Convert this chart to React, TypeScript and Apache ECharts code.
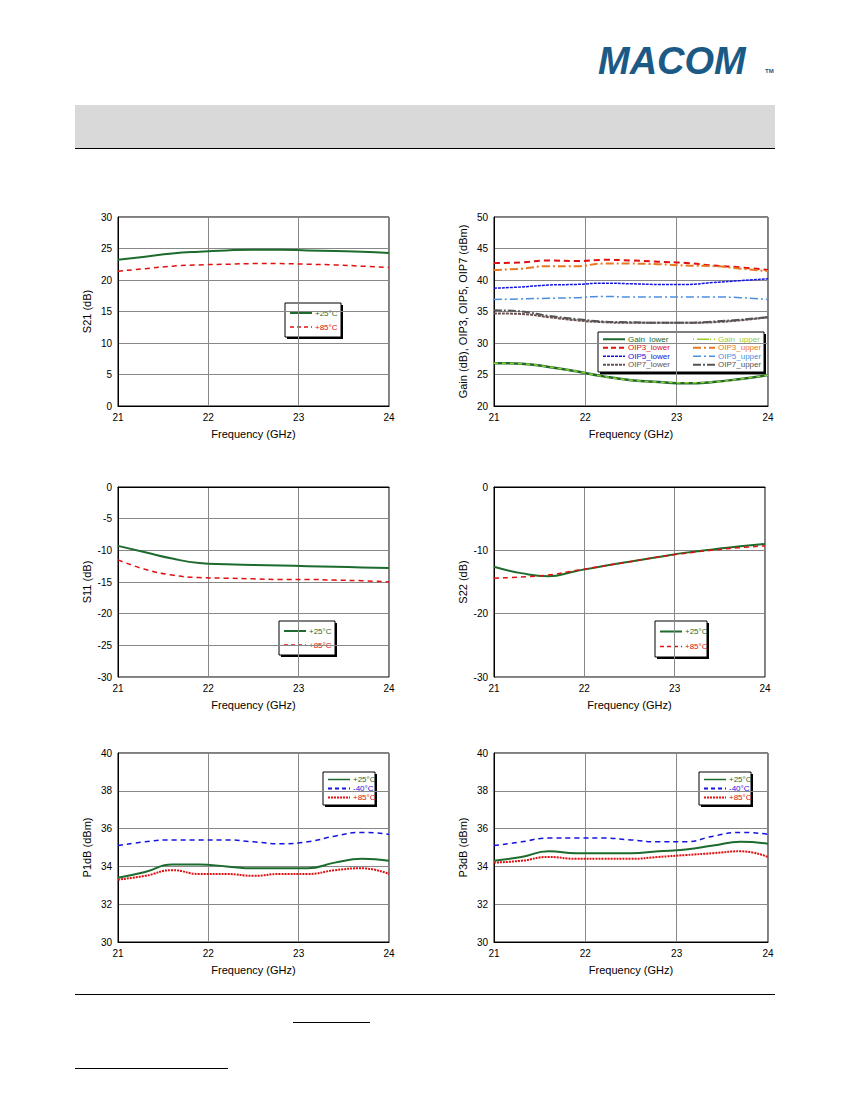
import React, { useEffect, useRef } from "react";
import * as echarts from "echarts";

const freq = [21, 21.3, 21.6, 21.9, 22.2, 22.5, 22.8, 23.1, 23.4, 23.7, 24];
const s21_25 = [23.2, 23.7, 24.2, 24.5, 24.7, 24.8, 24.8, 24.7, 24.6, 24.5, 24.3];
const s21_85 = [21.4, 21.8, 22.2, 22.4, 22.5, 22.6, 22.6, 22.5, 22.4, 22.2, 22.0];
const gainLower = [26.8, 26.7, 26.2, 25.5, 24.7, 24.1, 23.8, 23.6, 23.8, 24.3, 24.9];
const gainUpper = [26.8, 26.7, 26.2, 25.5, 24.7, 24.1, 23.8, 23.7, 23.8, 24.3, 24.9];
const oip3Lower = [42.7, 42.8, 43.1, 43.0, 43.2, 43.1, 42.9, 42.7, 42.3, 42.0, 41.6];
const oip3Upper = [41.6, 41.8, 42.2, 42.2, 42.6, 42.6, 42.5, 42.3, 42.2, 41.8, 41.4];
const oip5Lower = [38.7, 38.9, 39.2, 39.3, 39.5, 39.4, 39.3, 39.3, 39.6, 39.9, 40.2];
const oip5Upper = [36.9, 37.0, 37.1, 37.2, 37.4, 37.3, 37.3, 37.3, 37.3, 37.2, 36.9];
const oip7Lower = [34.7, 34.6, 34.1, 33.6, 33.3, 33.2, 33.2, 33.2, 33.3, 33.6, 34.1];
const oip7Upper = [35.2, 35.0, 34.3, 33.8, 33.4, 33.3, 33.2, 33.2, 33.4, 33.7, 34.1];
const s11_25 = [-9.3, -10.3, -11.3, -12.0, -12.2, -12.3, -12.4, -12.5, -12.6, -12.7, -12.8];
const s11_85 = [-11.5, -13.0, -13.9, -14.3, -14.4, -14.5, -14.6, -14.6, -14.7, -14.8, -15.0];
const s22_25 = [-12.6, -13.6, -14.1, -13.3, -12.5, -11.8, -11.1, -10.4, -9.9, -9.4, -9.0];
const s22_85 = [-14.4, -14.2, -13.9, -13.2, -12.5, -11.8, -11.1, -10.5, -10.0, -9.6, -9.3];
const p1_25 = [33.4, 33.7, 34.1, 34.1, 34.0, 33.9, 33.9, 33.9, 34.2, 34.4, 34.3];
const p1_m40 = [35.1, 35.3, 35.4, 35.4, 35.4, 35.3, 35.2, 35.3, 35.6, 35.8, 35.7];
const p1_85 = [33.3, 33.5, 33.8, 33.6, 33.6, 33.5, 33.6, 33.6, 33.8, 33.9, 33.6];
const p3_25 = [34.3, 34.5, 34.8, 34.7, 34.7, 34.7, 34.8, 34.9, 35.1, 35.3, 35.2];
const p3_m40 = [35.1, 35.3, 35.5, 35.5, 35.5, 35.4, 35.3, 35.3, 35.6, 35.8, 35.7];
const p3_85 = [34.2, 34.3, 34.5, 34.4, 34.4, 34.4, 34.5, 34.6, 34.7, 34.8, 34.5];

const GREEN = "#1e6b2e", RED = "#e01010", BLUE = "#1414e0";
const FONT = "Liberation Sans";

const pts = (v: number[]) => freq.map((f, i) => [f, v[i]]);

export default function App() {
  const ref = useRef<HTMLDivElement>(null);
  useEffect(() => {
    const chart = echarts.init(ref.current!, null, { renderer: "svg" });
    const boxes = [
      { l: 118, r: 389, t: 217, b: 406, min: 0, max: 30, iv: 5, name: "S21 (dB)" },
      { l: 494, r: 768, t: 217, b: 406, min: 20, max: 50, iv: 5, name: "Gain (dB), OIP3, OIP5, OIP7 (dBm)" },
      { l: 118, r: 389, t: 487, b: 677, min: -30, max: 0, iv: 5, name: "S11 (dB)" },
      { l: 494, r: 765, t: 487, b: 677, min: -30, max: 0, iv: 10, name: "S22 (dB)" },
      { l: 118, r: 389, t: 753, b: 942, min: 30, max: 40, iv: 2, name: "P1dB (dBm)" },
      { l: 494, r: 768, t: 753, b: 942, min: 30, max: 40, iv: 2, name: "P3dB (dBm)" },
    ];
    const grid = boxes.map((b) => ({ left: b.l, top: b.t, width: b.r - b.l, height: b.b - b.t, borderColor: "#000", borderWidth: 1, show: true }));
    const xAxis = boxes.map((b, i) => ({
      type: "value", gridIndex: i, min: 21, max: 24, interval: 1,
      name: "Frequency (GHz)", nameLocation: "middle", nameGap: 22,
      nameTextStyle: { fontFamily: FONT, fontSize: 11, color: "#000" },
      axisLine: { lineStyle: { color: "#000" } }, axisTick: { show: false },
      axisLabel: { fontFamily: FONT, fontSize: 10, color: "#000", margin: 6 },
      splitLine: { lineStyle: { color: "#888" } },
    }));
    const yAxis = boxes.map((b, i) => ({
      type: "value", gridIndex: i, min: b.min, max: b.max, interval: b.iv,
      name: b.name, nameLocation: "middle", nameGap: 26,
      nameTextStyle: { fontFamily: FONT, fontSize: 11, color: "#000" },
      axisLine: { lineStyle: { color: "#000" } }, axisTick: { show: false },
      axisLabel: { fontFamily: FONT, fontSize: 10, color: "#000", margin: 6 },
      splitLine: { lineStyle: { color: "#888" } },
    }));
    const ln = (i: number, data: number[], color: string, type: any, width = 1.5) => ({
      type: "line", xAxisIndex: i, yAxisIndex: i, data: pts(data), smooth: true, showSymbol: false,
      lineStyle: { color, type, width },
    });
    const series = [
      ln(0, s21_25, GREEN, "solid", 2), ln(0, s21_85, RED, [5, 4]),
      ln(1, oip3Lower, RED, [6, 4], 2), ln(1, oip3Upper, "#e87820", [8, 3, 2, 3], 2),
      ln(1, oip5Lower, BLUE, [3, 1], 1.5), ln(1, oip5Upper, "#4a90e0", [8, 3, 2, 3], 1.5),
      ln(1, oip7Lower, "#6a5050", [3, 1], 2), ln(1, oip7Upper, "#555555", [8, 2, 2, 2], 2),
      ln(1, gainLower, GREEN, "solid", 2.5), ln(1, gainUpper, "#9acd32", [4, 4], 1.5),
      ln(2, s11_25, GREEN, "solid", 2), ln(2, s11_85, RED, [5, 4]),
      ln(3, s22_25, GREEN, "solid", 2), ln(3, s22_85, RED, [5, 4]),
      ln(4, p1_25, GREEN, "solid", 2), ln(4, p1_m40, BLUE, [5, 4]), ln(4, p1_85, RED, [2, 1], 2),
      ln(5, p3_25, GREEN, "solid", 2), ln(5, p3_m40, BLUE, [5, 4]), ln(5, p3_85, RED, [2, 1], 2),
    ];
    const legend = (x: number, y: number, w: number, h: number, items: any[], cols = 1, colW = 0) => {
      const els: any[] = [
        { type: "rect", shape: { x: x + 2, y: y + 2, width: w, height: h }, style: { fill: "#000" } },
        { type: "rect", shape: { x, y, width: w, height: h }, style: { fill: "#fff", stroke: "#000", lineWidth: 1 } },
      ];
      const rows = Math.ceil(items.length / cols);
      const rh = (h - 6) / rows;
      items.forEach((it, k) => {
        const c = Math.floor(k / rows), r = k % rows;
        const xx = x + 5 + c * colW, yy = y + 3 + rh * (r + 0.5);
        els.push({ type: "line", shape: { x1: xx, y1: yy, x2: xx + 22, y2: yy }, style: { stroke: it.c, lineWidth: it.w || 1.5, lineDash: it.d } });
        els.push({ type: "text", x: xx + 25, y: yy, style: { text: it.t, fill: it.tc || it.c, font: `8px ${FONT}`, verticalAlign: "middle" } });
      });
      return els;
    };
    const two = [{ t: "+25°C", c: GREEN, w: 2 }, { t: "+85°C", c: RED, d: [4, 3] }];
    const three = [{ t: "+25°C", c: GREEN, w: 1.5 }, { t: "-40°C", c: BLUE, d: [4, 3], w: 2 }, { t: "+85°C", c: RED, d: [2, 1], w: 2 }];
    const graphic: any[] = [
      { type: "text", x: 598, y: 42, style: { text: "MACOM", fill: "#1a5a85", font: `italic bold 38px ${FONT}` } },
      { type: "text", x: 765, y: 68, style: { text: "TM", fill: "#1a5a85", font: `bold 6px ${FONT}` } },
      { type: "rect", shape: { x: 75, y: 105, width: 700, height: 43 }, style: { fill: "#d9d9d9" } },
      { type: "line", shape: { x1: 75, y1: 148.5, x2: 775, y2: 148.5 }, style: { stroke: "#000", lineWidth: 1 } },
      { type: "line", shape: { x1: 75, y1: 994.5, x2: 775, y2: 994.5 }, style: { stroke: "#000", lineWidth: 1 } },
      { type: "line", shape: { x1: 293, y1: 1022.5, x2: 370, y2: 1022.5 }, style: { stroke: "#000", lineWidth: 1 } },
      { type: "line", shape: { x1: 75, y1: 1068.5, x2: 228, y2: 1068.5 }, style: { stroke: "#000", lineWidth: 1 } },
      ...legend(285, 303, 56, 34, two),
      ...legend(598, 332, 166, 40, [
        { t: "Gain_lower", c: GREEN, w: 2 }, { t: "OIP3_lower", c: RED, d: [5, 3], w: 2 },
        { t: "OIP5_lower", c: BLUE, d: [3, 1] }, { t: "OIP7_lower", c: "#6a5050", d: [3, 1], w: 2 },
        { t: "Gain_upper", c: "#9acd32", d: [1, 3, 12, 1], tc: "#9acd32" }, { t: "OIP3_upper", c: "#e87820", d: [8, 3, 2, 3], w: 2 },
        { t: "OIP5_upper", c: "#4a90e0", d: [8, 3, 2, 3] }, { t: "OIP7_upper", c: "#555", d: [8, 2, 2, 2], w: 2 },
      ], 2, 90),
      ...legend(279, 621, 56, 34, two),
      ...legend(655, 621, 52, 36, two),
      ...legend(323, 772, 52, 33, three),
      ...legend(699, 772, 52, 33, three),
    ];
    chart.setOption({ animation: false, grid, xAxis, yAxis, series, graphic });
    return () => chart.dispose();
  }, []);
  return <div ref={ref} style={{ position: "absolute", left: 0, top: 0, width: 850, height: 1100, background: "#fff" }} />;
}
